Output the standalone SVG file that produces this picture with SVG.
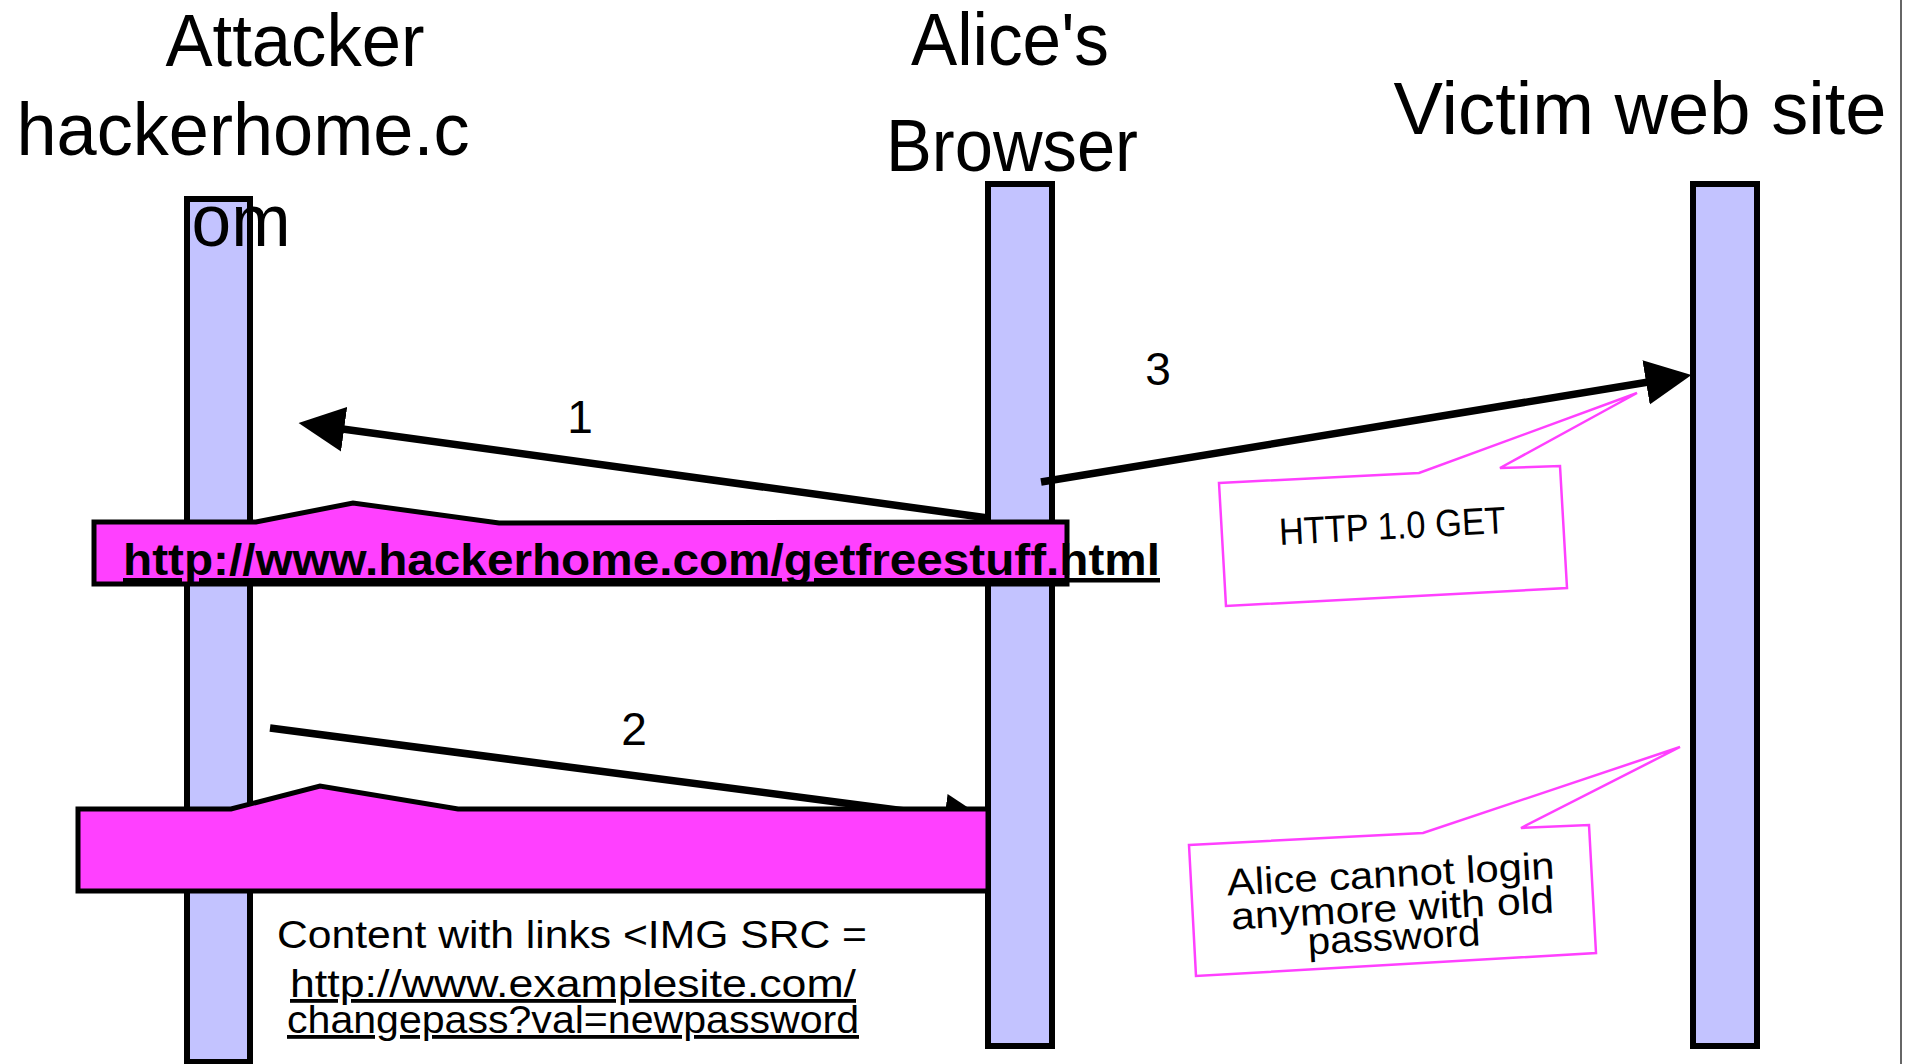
<svg xmlns="http://www.w3.org/2000/svg" width="1913" height="1064" viewBox="0 0 1913 1064">
<defs>
<style>
.title{font-family:"Liberation Sans",Arial,sans-serif;font-size:75px;fill:#000;text-anchor:middle}
.life{fill:#c3c3ff;stroke:#000;stroke-width:6}
.msg{stroke:#000;stroke-width:7.5;fill:none;marker-end:url(#ah)}
.num{font-family:"Liberation Sans",Arial,sans-serif;font-size:46px;fill:#000;text-anchor:middle}
.callout{fill:#ff40ff;stroke:#000;stroke-width:5;stroke-linejoin:miter}
.note{fill:#fff;stroke:#ff40ff;stroke-width:2.5}
.notetext{font-family:"Liberation Sans",Arial,sans-serif;font-size:38px;fill:#000;text-anchor:middle}
.body{font-family:"Liberation Sans",Arial,sans-serif;font-size:38px;fill:#000;text-anchor:middle}
.url{font-family:"Liberation Sans",Arial,sans-serif;font-size:45px;font-weight:bold;fill:#000;text-decoration:underline}
.u{text-decoration:underline}
</style>
<marker id="ah" markerUnits="userSpaceOnUse" markerWidth="46" markerHeight="46" viewBox="0 0 45 44" refX="25" refY="22" orient="auto"><path d="M0,0 L45,22 L0,44 z" fill="#000"/></marker>
</defs>
<rect x="0" y="0" width="1913" height="1064" fill="#fff"/>
<line x1="1901" y1="0" x2="1901" y2="1064" stroke="#333" stroke-width="1.5"/>

<g id="attacker">
<rect class="life" x="187" y="199" width="63" height="863"/>
<text class="title" x="295" y="66" textLength="259" lengthAdjust="spacingAndGlyphs">Attacker</text>
<text class="title" x="243" y="155" textLength="453" lengthAdjust="spacingAndGlyphs">hackerhome.c</text>
<text class="title" x="241" y="246" textLength="99" lengthAdjust="spacingAndGlyphs">om</text>
</g>

<g id="browser">
<rect class="life" x="988" y="184" width="64" height="862"/>
<text class="title" x="1010" y="65" textLength="198" lengthAdjust="spacingAndGlyphs">Alice's</text>
<text class="title" x="1012" y="171" textLength="252" lengthAdjust="spacingAndGlyphs">Browser</text>
</g>

<g id="victim">
<rect class="life" x="1693" y="184" width="64" height="862"/>
<text class="title" x="1640" y="134" textLength="493" lengthAdjust="spacingAndGlyphs">Victim web site</text>
</g>

<g id="connectors">
<line class="msg" x1="988" y1="518" x2="318.8" y2="425.7"/>
<line class="msg" x1="270" y1="728" x2="970" y2="819.5"/>
<line class="msg" x1="1041" y1="482" x2="1671.3" y2="378.2"/>
<text class="num" x="580" y="433">1</text>
<text class="num" x="634" y="745">2</text>
<text class="num" x="1158" y="385">3</text>
</g>

<g id="url-callout">
<polygon class="callout" points="94,522 256,522 353,503 499,523 1067,522 1067,584 94,584"/>
<text class="url" x="123" y="575" textLength="1037" lengthAdjust="spacingAndGlyphs">http://www.hackerhome.com/getfreestuff.html</text>
</g>

<g id="content-callout">
<polygon class="callout" points="78,809 231,809 320,786 458,809 988,809 988,891 78,891"/>
<text class="body" x="572" y="948" textLength="590" lengthAdjust="spacingAndGlyphs">Content with links &lt;IMG SRC =</text>
<text class="body u" x="573" y="997" textLength="566" lengthAdjust="spacingAndGlyphs">http://www.examplesite.com/</text>
<text class="body u" x="573" y="1033" textLength="572" lengthAdjust="spacingAndGlyphs">changepass?val=newpassword</text>
</g>

<g id="note-http">
<polygon class="note" points="1219,483 1419,473 1637,393 1500,468 1560,466 1567,588 1226,606"/>
<text class="notetext" x="1393" y="539" transform="rotate(-3 1393 539)" textLength="227" lengthAdjust="spacingAndGlyphs">HTTP 1.0 GET</text>
</g>

<g id="note-alice">
<polygon class="note" points="1189,845 1423,833 1680,747 1521,828 1589,825 1596,953 1196,976"/>
<g transform="rotate(-3 1392 900)">
<text class="notetext" x="1392" y="887" textLength="328" lengthAdjust="spacingAndGlyphs">Alice cannot login</text>
<text class="notetext" x="1392" y="921" textLength="323" lengthAdjust="spacingAndGlyphs">anymore with old</text>
<text class="notetext" x="1392" y="950" textLength="173" lengthAdjust="spacingAndGlyphs">password</text>
</g>
</g>
</svg>
